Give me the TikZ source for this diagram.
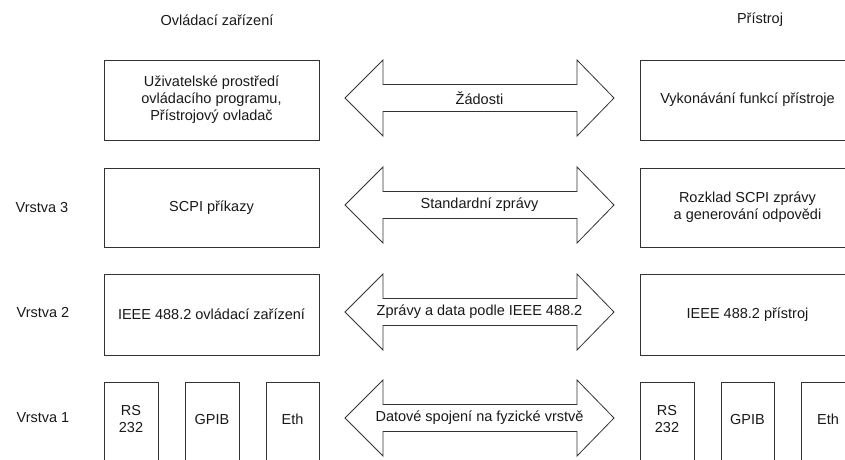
\documentclass[tikz,border=0pt]{standalone}
\usepackage{fontspec}
\setmainfont{Liberation Sans}
\begin{document}
\begin{tikzpicture}[x=1pt,y=-1pt,
  every node/.style={font=\fontsize{14.5}{17}\selectfont, text=black!90},
  box/.style={draw=black!80, line width=0.8pt, fill=white},
  txt/.style={align=center, inner sep=0pt},
  dblarrow/.style={draw=black!80, line width=0.8pt, fill=white, line join=miter}
]
\useasboundingbox (0,0) rectangle (845,459);
\begin{scope}
\clip (0,0) rectangle (845,459);

% column headers
\node[txt] (hleft) at (217,20) {Ovládací zařízení};
\node[txt] (hright) at (760,20) {Přístroj};

% layer labels
\node[txt] (l3) at (42,208) {Vrstva 3};
\node[txt] (l2) at (43,312) {Vrstva 2};
\node[txt] (l1) at (43,418) {Vrstva 1};

% control side
\draw[box] (104,60) rectangle (319,140);
\node[txt] (c4) at (211.5,100) {Uživatelské prostředí\\ovládacího programu,\\Přístrojový ovladač};
\draw[box] (104,168) rectangle (319,247);
\node[txt] (c3) at (211.5,207.5) {SCPI příkazy};
\draw[box] (104,274) rectangle (319,355);
\node[txt] (c2) at (211.5,314.5) {IEEE 488.2 ovládací zařízení};
\draw[box] (104,382) rectangle (158,480);
\draw[box] (185,382) rectangle (239,480);
\draw[box] (266,382) rectangle (319,480);
\node[txt] (crs) at (131,419) {RS\\232};
\node[txt] (cgp) at (212,419) {GPIB};
\node[txt] (ceth) at (292.5,419) {Eth};

% instrument side
\draw[box] (640,60) rectangle (855,140);
\node[txt] (d4) at (747.5,100) {Vykonávání funkcí přístroje};
\draw[box] (640,168) rectangle (855,247);
\node[txt] (d3) at (747.5,207.5) {Rozklad SCPI zprávy\\a generování odpovědi};
\draw[box] (640,274) rectangle (855,355);
\node[txt] (d2) at (747.5,314.5) {IEEE 488.2 přístroj};
\draw[box] (640,382) rectangle (694,480);
\draw[box] (721,382) rectangle (774,480);
\draw[box] (801,382) rectangle (855,480);
\node[txt] (drs) at (667,419) {RS\\232};
\node[txt] (dgp) at (747.5,419) {GPIB};
\node[txt] (deth) at (828,419) {Eth};

% double arrows between the two sides
\foreach \yc/\name/\lbl in {98/a4/Žádosti, 205/a3/Standardní zprávy,
    312/a2/Zprávy a data podle IEEE 488.2, 418/a1/Datové spojení na fyzické vrstvě} {
  \draw[dblarrow] (345,\yc) -- (383,\yc-38) -- (383,\yc-13.5) -- (577,\yc-13.5)
    -- (577,\yc-38) -- (614,\yc) -- (577,\yc+38) -- (577,\yc+13.5)
    -- (383,\yc+13.5) -- (383,\yc+38) -- cycle;
  \node[txt] (\name) at (479.5,\yc) {\lbl};
}
\end{scope}
\end{tikzpicture}
\end{document}
